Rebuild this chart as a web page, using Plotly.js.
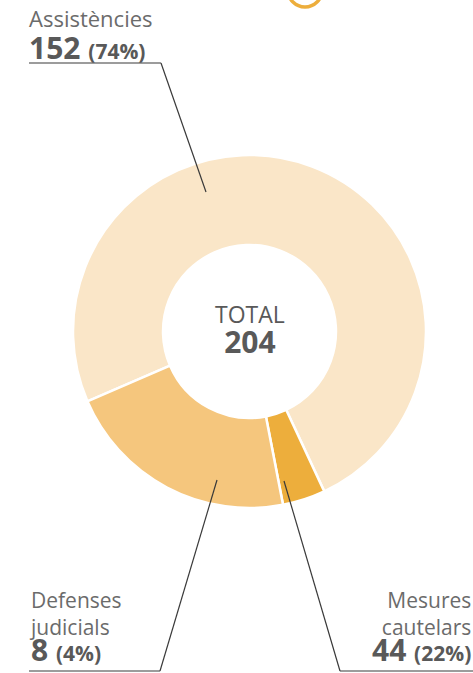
<!DOCTYPE html>
<html>
<head>
<meta charset="utf-8">
<script src="https://cdn.plot.ly/plotly-3.0.1.min.js"></script>
<style>html,body{margin:0;padding:0;background:#fff;}#chart{width:473px;height:673px;}</style>
</head>
<body>
<div id="chart"></div>
<script>
// Data
const categories = ["Assistències", "Defenses judicials", "Mesures cautelars"];
const values = [152, 8, 44];
const percents = ["74%", "4%", "22%"];
const total = 204;
const colors = ["#FAE6C8", "#EDAE3C", "#F5C67D"];

const W = 473, H = 673;
const px = x => x / W;
const py = y => 1 - y / H;

const grey = "#595959";
const labelGrey = "#6b6b6b";
const FONT = "Open Sans, Noto Sans, sans-serif";

const trace = {
  type: "pie",
  labels: categories,
  values: values,
  hole: 0.49,
  sort: false,
  direction: "clockwise",
  rotation: 246.7,
  marker: {colors: colors, line: {color: "#ffffff", width: 2.5}},
  textinfo: "none",
  hoverinfo: "label+value+percent",
  showlegend: false,
  domain: {x: [px(73), px(426)], y: [py(508), py(155)]}
};

const numLine = (v, p) =>
  "<span style=\"font-size:30px;color:" + grey + "\"><b>" + v + "</b> <span style=\"font-size:21px\"><b>(" + p + ")</b></span></span>";
const lbl = (t, s) => "<span style=\"font-size:" + s + "px\">" + t + "</span>";

function ann(text, x, y, base, xanchor, yanchor) {
  return {
    text: text, xref: "paper", yref: "paper", x: px(x), y: py(y),
    xanchor: xanchor, yanchor: yanchor, align: xanchor, showarrow: false,
    font: {family: FONT, size: base, color: labelGrey},
    borderpad: 0
  };
}

const bottomParts = c => c.split(" ");
const annotations = [
  ann(lbl(categories[0], 22) + "<br>" + numLine(values[0], percents[0]), 28, 2, 24.6, "left", "top"),
  ann(lbl(bottomParts(categories[1])[0], 21) + "<br>" + lbl(bottomParts(categories[1])[1], 21) + "<br>" + numLine(values[1], percents[1]), 28, 671, 20.5, "left", "bottom"),
  ann(lbl(bottomParts(categories[2])[0], 21) + "<br>" + lbl(bottomParts(categories[2])[1], 21) + "<br>" + numLine(values[2], percents[2]), 472, 671, 20.5, "right", "bottom"),
  {text: "TOTAL<br><b><span style=\"font-size:30px\">" + total + "</span></b>", xref: "paper", yref: "paper",
   x: px(250), y: py(330), xanchor: "center", yanchor: "middle", align: "center", showarrow: false,
   font: {family: FONT, size: 23, color: grey}, borderpad: 0}
];

const lineStyle = {color: "#3a3a3a", width: 1.2};
function seg(x0, y0, x1, y1) {
  return {type: "line", xref: "paper", yref: "paper", x0: px(x0), y0: py(y0), x1: px(x1), y1: py(y1), line: lineStyle};
}
const shapes = [
  seg(29, 63, 161, 63), seg(161, 63, 206, 192),
  seg(29, 671, 160, 671), seg(160, 671, 217, 480),
  seg(340, 671, 473, 671), seg(340, 671, 284, 481),
  {type: "circle", xref: "paper", yref: "paper", x0: px(288), x1: px(322), y0: py(7), y1: py(-27),
   line: {color: "#EDAE3C", width: 3.5}, fillcolor: "rgba(0,0,0,0)"}
];

const layout = {
  width: W, height: H,
  margin: {l: 0, r: 0, t: 0, b: 0},
  paper_bgcolor: "#ffffff", plot_bgcolor: "#ffffff",
  font: {family: FONT},
  annotations: annotations,
  shapes: shapes,
  showlegend: false
};

Plotly.newPlot("chart", [trace], layout, {displayModeBar: false, staticPlot: true});
</script>
</body>
</html>
